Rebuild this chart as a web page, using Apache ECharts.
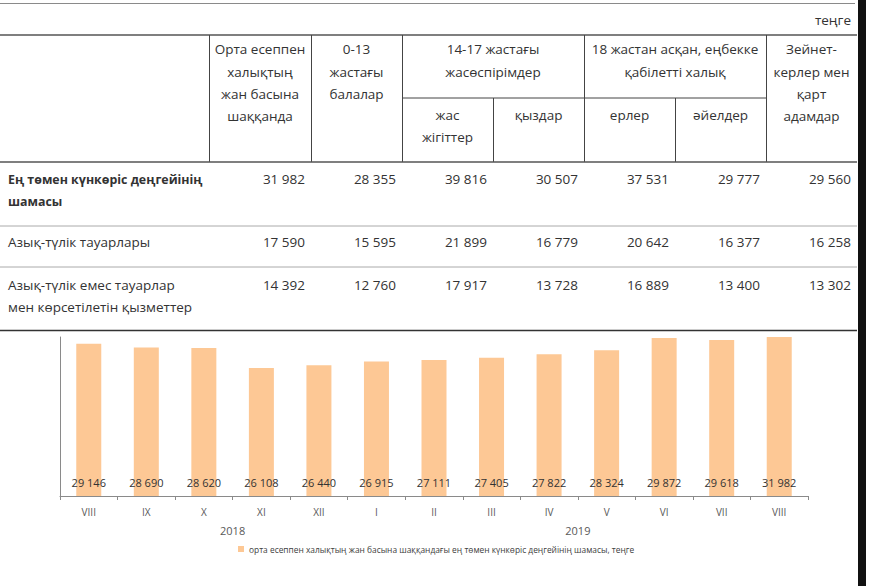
<!DOCTYPE html>
<html>
<head>
<meta charset="utf-8">
<script src="https://cdn.jsdelivr.net/npm/echarts@6/dist/echarts.min.js"></script>
<style>
html,body{margin:0;padding:0;background:#fff;}
#main{width:870px;height:586px;}
</style>
</head>
<body>
<div id="main"></div>
<script>
// ---- Table data ----
const unitLabel = 'теңге';
const colHeaders = [
  ['Орта есеппен', 'халықтың', 'жан басына', 'шаққанда'],
  ['0-13', 'жастағы', 'балалар'],
  ['14-17 жастағы', 'жасөспірімдер'],
  ['18 жастан асқан, еңбекке', 'қабілетті халық'],
  ['Зейнет-', 'керлер мен', 'қарт', 'адамдар']
];
const subHeaders = [['жас', 'жігіттер'], ['қыздар'], ['ерлер'], ['әйелдер']];
const rowLabels = [
  ['Ең төмен күнкөріс деңгейінің', 'шамасы'],
  ['Азық-түлік тауарлары'],
  ['Азық-түлік емес тауарлар', 'мен көрсетілетін қызметтер']
];
const rowMinimum = [31982, 28355, 39816, 30507, 37531, 29777, 29560];
const rowFood = [17590, 15595, 21899, 16779, 20642, 16377, 16258];
const rowNonFood = [14392, 12760, 17917, 13728, 16889, 13400, 13302];

// ---- Chart data ----
const months = ['VIII', 'IX', 'X', 'XI', 'XII', 'I', 'II', 'III', 'IV', 'V', 'VI', 'VII', 'VIII'];
const minimumLevel = [29146, 28690, 28620, 26108, 26440, 26915, 27111, 27405, 27822, 28324, 29872, 29618, 31982];
const years = ['2018', '2019'];
const yearStartIndex = [0, 5];
const yearEndIndex = [5, 12];
const seriesName = 'орта есеппен халықтың жан басына шаққандағы ең төмен күнкөріс деңгейінің шамасы, теңге';

const fmt = v => String(v).replace(/\B(?=(\d{3})+(?!\d))/g, ' ');
const FONT = "'Open Sans', 'DejaVu Sans', sans-serif";
const TXT = '#333';

const chart = echarts.init(document.getElementById('main'), null, {renderer: 'svg'});

// ---- table layout (graphic) ----
const g = [];
function line(x1, y1, x2, y2, color, w) {
  g.push({type: 'line', shape: {x1, y1, x2, y2}, style: {stroke: color, lineWidth: w}, silent: true});
}
function text(t, x, y, align, size, weight, color) {
  g.push({type: 'text', x: x, y: y, silent: true, style: {
    text: t, align: align, verticalAlign: 'middle',
    fontSize: size, fontWeight: weight || 'normal', fontFamily: FONT, fill: color || TXT
  }});
}
const tableRight = 857;
line(0, 3.5, 855, 3.5, '#8a8a8a', 1);
text(unitLabel, 851, 20, 'right', 13.5);
line(0, 35, tableRight, 35, '#555', 1.5);
// vertical separators
[209, 311, 402, 584, 766].forEach(x => line(x + 0.5, 35, x + 0.5, 162, '#444', 1));
[493, 675].forEach(x => line(x + 0.5, 98, x + 0.5, 162, '#444', 1));
line(402, 98, 766, 98, '#444', 1);
line(0, 162, tableRight, 162, '#555', 1.5);
// header texts
const headerCenters = [260, 356.5, 493, 675, 811.5];
const headerLineY = [49, 72, 94, 116];
colHeaders.forEach((lines, i) => lines.forEach((t, k) => text(t, headerCenters[i], headerLineY[k], 'center', 13.5)));
const subCenters = [447.5, 538.5, 629.5, 720.5];
const subLineY = [115, 137];
subHeaders.forEach((lines, i) => lines.forEach((t, k) => text(t, subCenters[i], subLineY[k], 'center', 13.5)));
// rows
const rowValues = [rowMinimum, rowFood, rowNonFood];
const rowY = [179, 242, 285];
const rowLineGap = 22;
rowLabels.forEach((lines, r) => lines.forEach((t, k) =>
  text(t, 8, rowY[r] + k * rowLineGap, 'left', r === 0 ? 12.4 : 13.5, r === 0 ? 'bold' : 'normal')));
const valRight = [305, 396, 487, 578, 669, 760, 851];
rowValues.forEach((vals, r) => vals.forEach((v, c) => text(fmt(v), valRight[c], rowY[r], 'right', 13.5)));
line(0, 226, tableRight, 226, '#aaa', 1);
line(0, 267, tableRight, 267, '#aaa', 1);
line(0, 330.5, tableRight, 330.5, '#333', 1.5);
// right dark border strip
g.push({type: 'rect', shape: {x: 858, y: 0, width: 8, height: 586}, style: {fill: '#111'}, silent: true, z: 100});

const option = {
  animation: false,
  backgroundColor: '#fff',
  grid: {left: 60, right: 62, top: 337, bottom: 90, containLabel: false},
  legend: {
    data: [seriesName], left: 238, top: 545, itemWidth: 6, itemHeight: 6, icon: 'rect', itemGap: 4,
    textStyle: {fontSize: 8.4, color: '#404040', fontFamily: FONT}, padding: 0
  },
  xAxis: {
    type: 'category', data: months,
    axisLine: {lineStyle: {color: '#8a8a8a', width: 1}},
    axisTick: {show: true, length: 4, lineStyle: {color: '#8a8a8a'}},
    axisLabel: {interval: 0, fontSize: 10, color: '#595959', margin: 11, fontFamily: FONT}
  },
  yAxis: {
    type: 'value', min: 10000, max: 30000,
    axisLine: {show: true, lineStyle: {color: '#8a8a8a', width: 1}},
    axisTick: {show: false}, axisLabel: {show: false}, splitLine: {show: false}
  },
  series: [{
    name: seriesName, type: 'bar', data: minimumLevel, barWidth: 25, clip: true,
    itemStyle: {color: '#fdc895'},
    label: {
      show: true, position: 'insideBottom', distance: 8,
      fontSize: 11, color: '#333', fontFamily: FONT,
      formatter: p => fmt(p.value)
    }
  }],
  graphic: g
};
chart.setOption(option);

// year labels centred under their month groups
const yearGraphics = years.map((y, i) => {
  const xa = chart.convertToPixel({xAxisIndex: 0}, yearStartIndex[i]);
  const xb = chart.convertToPixel({xAxisIndex: 0}, yearEndIndex[i]);
  const axisY = chart.convertToPixel({yAxisIndex: 0}, 10000);
  return {type: 'text', x: (xa + xb) / 2, y: axisY + 34, silent: true, style: {
    text: y, align: 'center', verticalAlign: 'middle', fontSize: 11, fill: '#595959', fontFamily: FONT
  }};
});
chart.setOption({graphic: g.concat(yearGraphics)}, {replaceMerge: ['graphic']});
</script>
</body>
</html>
